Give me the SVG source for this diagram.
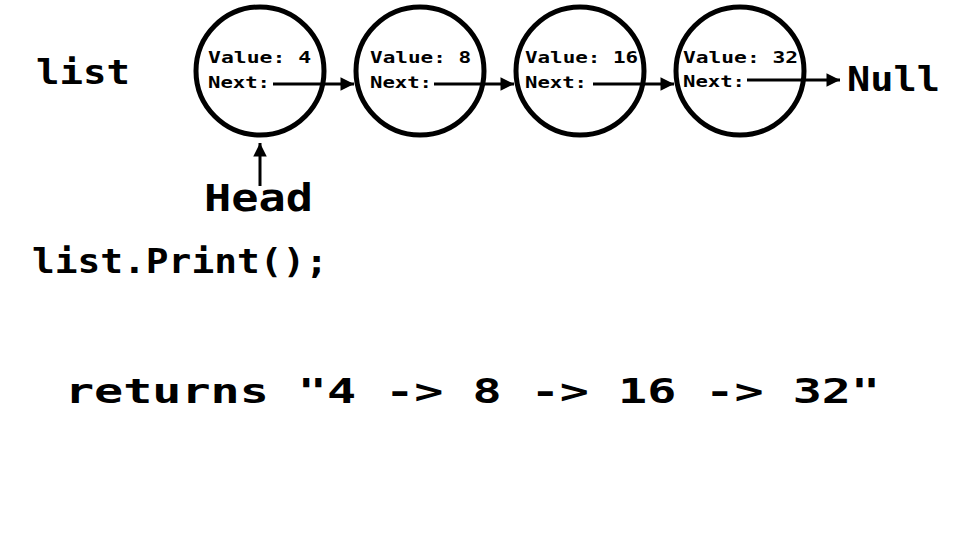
<svg xmlns="http://www.w3.org/2000/svg" width="960" height="540" viewBox="0 0 960 540">
<style>
.node{fill:none;stroke:#000;stroke-width:5}
.t{font-family:"DejaVu Sans Mono","Liberation Mono",monospace;font-weight:bold;fill:#000}
.s{font-size:16px}
.big{font-size:34px}
.conn{stroke:#000;stroke-width:3;fill:none}
</style>
<defs>
<marker id="ah" viewBox="0 0 10 10" refX="10" refY="5" markerWidth="5" markerHeight="4.5" markerUnits="strokeWidth" orient="auto">
<path d="M0,0 L10,5 L0,10 Z" fill="#000"/>
</marker>
</defs>
<rect width="960" height="540" fill="#fff"/>
<text class="t big" x="36" y="84" textLength="94" lengthAdjust="spacingAndGlyphs">list</text>
<g id="n1">
<circle class="node" cx="260" cy="71" r="64"/>
<text class="t s" x="208" y="63" textLength="103" lengthAdjust="spacingAndGlyphs">Value: 4</text>
<text class="t s" x="208" y="88" textLength="62" lengthAdjust="spacingAndGlyphs">Next:</text>
</g>
<g id="n2">
<circle class="node" cx="420" cy="71" r="64"/>
<text class="t s" x="370" y="63" textLength="101" lengthAdjust="spacingAndGlyphs">Value: 8</text>
<text class="t s" x="370" y="88" textLength="62" lengthAdjust="spacingAndGlyphs">Next:</text>
</g>
<g id="n3">
<circle class="node" cx="580" cy="71" r="64"/>
<text class="t s" x="525" y="63" textLength="113" lengthAdjust="spacingAndGlyphs">Value: 16</text>
<text class="t s" x="525" y="88" textLength="62" lengthAdjust="spacingAndGlyphs">Next:</text>
</g>
<g id="n4">
<circle class="node" cx="740" cy="71" r="64"/>
<text class="t s" x="683" y="63" textLength="115" lengthAdjust="spacingAndGlyphs">Value: 32</text>
<text class="t s" x="683" y="87" textLength="62" lengthAdjust="spacingAndGlyphs">Next:</text>
</g>
<g id="null">
<text class="t big" x="847" y="91" textLength="93" lengthAdjust="spacingAndGlyphs">Null</text>
</g>
<g id="head">
<text class="t" style="font-size:37px" x="204" y="211" textLength="109" lengthAdjust="spacingAndGlyphs">Head</text>
</g>
<g id="connectors">
<line class="conn" x1="273" y1="84" x2="354" y2="84" marker-end="url(#ah)"/>
<line class="conn" x1="434" y1="84" x2="514" y2="84" marker-end="url(#ah)"/>
<line class="conn" x1="593" y1="84" x2="674" y2="84" marker-end="url(#ah)"/>
<line class="conn" x1="747" y1="80" x2="840" y2="80" marker-end="url(#ah)"/>
<line class="conn" x1="260" y1="186" x2="260" y2="143" marker-end="url(#ah)"/>
</g>
<text class="t big" x="32" y="273" textLength="296" lengthAdjust="spacingAndGlyphs">list.Print();</text>
<text class="t big" x="65" y="403" textLength="815" lengthAdjust="spacingAndGlyphs">returns "4 -&gt; 8 -&gt; 16 -&gt; 32"</text>
</svg>
